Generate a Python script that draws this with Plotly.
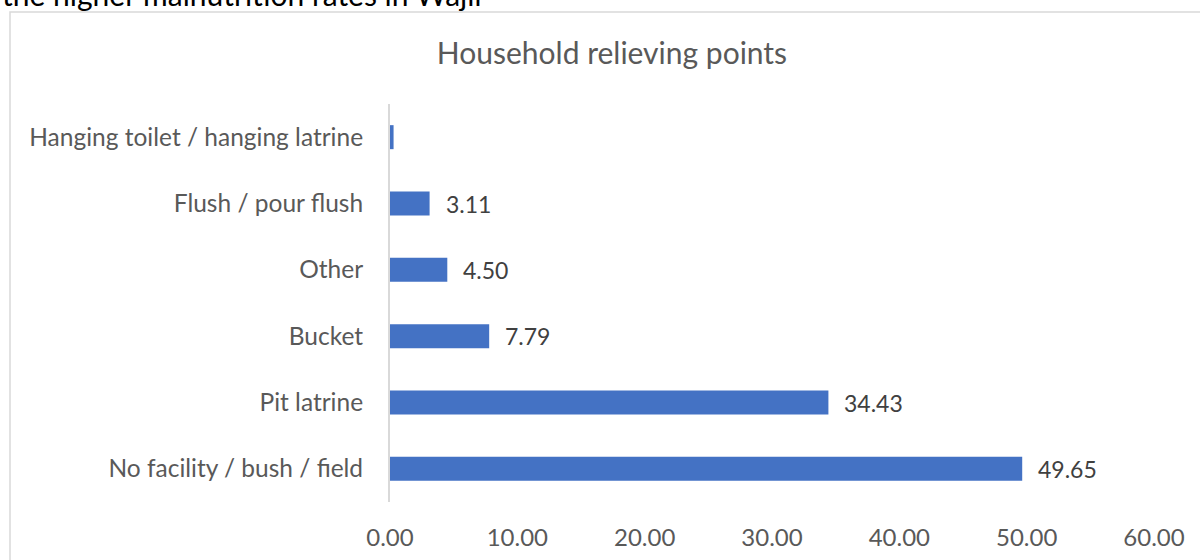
import plotly.graph_objects as go

# Household relieving points (% of households), listed bottom to top
categories = [
    "No facility / bush / field",
    "Pit latrine",
    "Bucket",
    "Other",
    "Flush / pour flush",
    "Hanging toilet / hanging latrine",
]
values = [49.65, 34.43, 7.79, 4.50, 3.11, 0.28]
show_label = [True, True, True, True, True, False]
x_ticks = [0, 10, 20, 30, 40, 50, 60]

BAR_COLOR = "#4472C4"
FONT = "Lato"

fig = go.Figure(
    go.Bar(
        x=values,
        y=categories,
        orientation="h",
        marker=dict(color=BAR_COLOR, line=dict(width=0)),
        hoverinfo="x+y",
    )
)

# value labels to the right of each bar
annotations = [
    dict(
        x=v, y=c, xref="x", yref="y",
        text=f"{v:.2f}", showarrow=False,
        xanchor="left", yanchor="middle", xshift=14,
        font=dict(family=FONT, size=23, color="#404040"),
    )
    for c, v, s in zip(categories, values, show_label) if s
]

# caption line of the surrounding text, clipped at the top of the page
annotations.append(dict(
    x=-0.511, y=(502 + 6) / 398, xref="paper", yref="paper",
    text="the higher malnutrition rates in Wajir", showarrow=False,
    xanchor="left", yanchor="middle",
    font=dict(family=FONT, size=30, color="#000000"),
))

fig.update_layout(
    width=1200, height=560,
    margin=dict(l=390, r=46, t=104, b=58, autoexpand=False),
    paper_bgcolor="white", plot_bgcolor="white",
    title=dict(
        text="Household relieving points",
        x=0.51, xanchor="center", y=1 - 53 / 560, yanchor="middle",
        font=dict(family=FONT, size=30, color="#595959"),
    ),
    bargap=0.638,
    showlegend=False,
    annotations=annotations,
    shapes=[
        dict(
            type="rect", xref="paper", yref="paper",
            x0=(10 - 390) / 764, x1=(1210 - 390) / 764,
            y0=(502 - 570) / 398, y1=(502 - 12) / 398,
            line=dict(color="#D9D9D9", width=1.5), fillcolor="rgba(0,0,0,0)",
            layer="below",
        )
    ],
)

fig.update_xaxes(
    range=[0, 60], tickvals=x_ticks,
    ticktext=[f"{t:.2f}" for t in x_ticks],
    showgrid=False, zeroline=False, showline=False, ticks="",
    ticklabelstandoff=19, automargin=False,
    tickfont=dict(family=FONT, size=24, color="#595959"),
)
fig.update_yaxes(
    categoryorder="array", categoryarray=categories,
    showgrid=False, zeroline=False,
    showline=True, linecolor="#D9D9D9", linewidth=2, ticks="",
    ticklabelstandoff=20, automargin=False,
    tickfont=dict(family=FONT, size=24.5, color="#595959"),
)

fig.write_html("out.html")
